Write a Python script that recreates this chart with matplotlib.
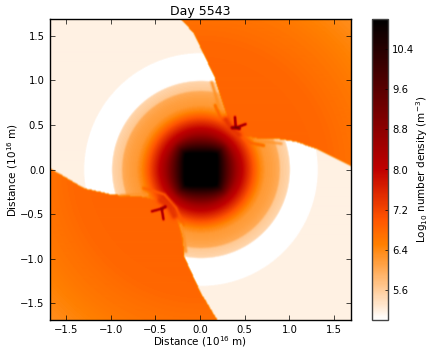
import numpy as np
import matplotlib
matplotlib.use('Agg')
import matplotlib.pyplot as plt
from matplotlib.path import Path

# radial density profile, log10 m^-3
profile_r = [0.0, 0.17, 0.20, 0.30, 0.40, 0.50, 0.60, 0.66, 0.70, 0.72, 0.80, 0.875, 0.89, 0.99, 1.005, 1.295, 1.31, 3.0]
profile_v = [11.6, 11.1, 10.8, 9.6, 8.5, 7.7, 6.9, 6.45, 6.3, 6.2, 6.12, 6.0, 5.65, 5.5, 4.9, 4.9, 5.18, 5.18]

# arm density against distance from the centre
arm_r = [0.0, 1.4, 1.9, 2.4]
arm_v = [6.85, 6.8, 6.6, 6.32]

# arm outlines
ne_x = [-0.235, -0.08, 0.15, 0.22, 0.28, 0.32, 0.40, 0.48, 0.64, 0.84, 1.07, 1.32, 1.70, 1.70, -0.235]
ne_y = [1.70, 1.53, 1.04, 0.82, 0.65, 0.52, 0.42, 0.38, 0.35, 0.35, 0.31, 0.22, 0.03, 1.70, 1.70]
sw_x = [-1.70, -1.53, -1.31, -1.00, -0.64, -0.48, -0.36, -0.26, -0.20, -0.19, 0.0, 0.19, 0.20, -1.70, -1.70]
sw_y = [0.02, -0.08, -0.21, -0.28, -0.31, -0.35, -0.44, -0.59, -0.78, -0.97, -1.39, -1.70, -1.70, -1.70, 0.02]

# shocks next to the arms: x, y, value, width
shocks = [
    ([0.16, 0.22, 0.41, 0.56, 0.70], [0.72, 0.58, 0.39, 0.30, 0.27], 6.9, 0.016),
    ([0.28, 0.33, 0.42], [0.56, 0.47, 0.39], 7.4, 0.04),
    ([0.12, 0.16, 0.20], [0.98, 0.85, 0.70], 6.3, 0.018),
    ([0.60, 0.75, 0.90], [0.32, 0.31, 0.29], 6.25, 0.014),
    ([-0.64, -0.41, -0.28, -0.20], [-0.21, -0.28, -0.43, -0.62], 6.9, 0.016),
    ([-0.45, -0.36, -0.30], [-0.35, -0.41, -0.52], 7.4, 0.04),
    ([-0.22, -0.19, -0.17], [-0.62, -0.78, -0.92], 6.3, 0.018),
    ([-0.90, -0.75, -0.60], [-0.29, -0.28, -0.28], 6.25, 0.014),
    # the two star shaped knots
    ([0.38, 0.39, 0.50], [0.59, 0.47, 0.51], 9.2, 0.011),
    ([0.35, 0.39, 0.43], [0.47, 0.47, 0.46], 9.4, 0.014),
    ([-0.55, -0.44, -0.42], [-0.47, -0.44, -0.56], 9.0, 0.011),
    ([-0.44, -0.40], [-0.44, -0.42], 9.0, 0.014),
]

tick_vals = [-1.5, -1.0, -0.5, 0.0, 0.5, 1.0, 1.5]
cbar_ticks = [5.6, 6.4, 7.2, 8.0, 8.8, 9.6, 10.4]

lim = 1.685
n = 302
xs = np.linspace(-lim, lim, n)
xx, yy = np.meshgrid(xs, xs)
r = np.hypot(xx, yy)

# core is squarish, the saturated part looks like a box
box = np.maximum(np.abs(xx), np.abs(yy))
core = np.clip((0.42 - r) / 0.2, 0, 1)
field = np.interp(r * (1 - core) + box * core, profile_r, profile_v)

pts = np.c_[xx.ravel(), yy.ravel()]
in_arm = Path(np.c_[ne_x, ne_y]).contains_points(pts) | Path(np.c_[sw_x, sw_y]).contains_points(pts)
in_arm = in_arm.reshape(xx.shape)
field[in_arm] = np.interp(r[in_arm], arm_r, arm_v)

for sx, sy, val, width in shocks:
    t = np.linspace(0, 1, 60)
    knots = np.linspace(0, 1, len(sx))
    px = np.interp(t, knots, sx)
    py = np.interp(t, knots, sy)
    d2 = (xx[..., None] - px) ** 2 + (yy[..., None] - py) ** 2
    weight = np.exp(-d2.min(axis=-1) / width ** 2)
    field = field + (val - field) * weight

# slight blur, the reference image is soft
kernel = np.array([0.25, 0.5, 0.25])
padded = np.pad(field, 1, mode='edge')
padded = np.apply_along_axis(lambda row: np.convolve(row, kernel, mode='same'), 0, padded)
padded = np.apply_along_axis(lambda row: np.convolve(row, kernel, mode='same'), 1, padded)
field = padded[1:-1, 1:-1]

fig = plt.figure(figsize=(4.36, 3.54), dpi=100)
ax = fig.add_axes([49.5 / 436, 1 - 320 / 354, 301 / 436, 301 / 354])
im = ax.imshow(field, origin='lower', extent=[-lim, lim, -lim, lim], cmap='gist_heat_r',
               vmin=5.0, vmax=11.0, interpolation='bilinear', aspect='auto')

ax.set_xticks(tick_vals)
ax.set_yticks(tick_vals)
ax.tick_params(direction='in', top=True, right=True, labelsize=7.2, length=3.5, width=0.5, pad=3.5)
ax.set_xlabel(r'Distance ($10^{16}$ m)', fontsize=7.5, labelpad=-0.5)
ax.set_ylabel(r'Distance ($10^{16}$ m)', fontsize=7.5, labelpad=0)
ax.set_title('Day 5543', fontsize=9, pad=3)
for spine in ax.spines.values():
    spine.set_linewidth(1.0)

cax = fig.add_axes([372 / 436, 1 - 320 / 354, 15.5 / 436, 301 / 354])
cb = fig.colorbar(im, cax=cax, ticks=cbar_ticks)
cb.ax.set_yticklabels(['%.1f' % v for v in cbar_ticks])
cb.ax.tick_params(direction='in', labelsize=7.2, length=2.5, width=0.5, pad=3.5)
cb.outline.set_linewidth(1.0)
cb.outline.set_edgecolor('#444444')
cb.set_label(r'Log$_{10}$ number density (m$^{-3}$)', fontsize=7.5, labelpad=0)

fig.savefig('out.png', dpi=100)
